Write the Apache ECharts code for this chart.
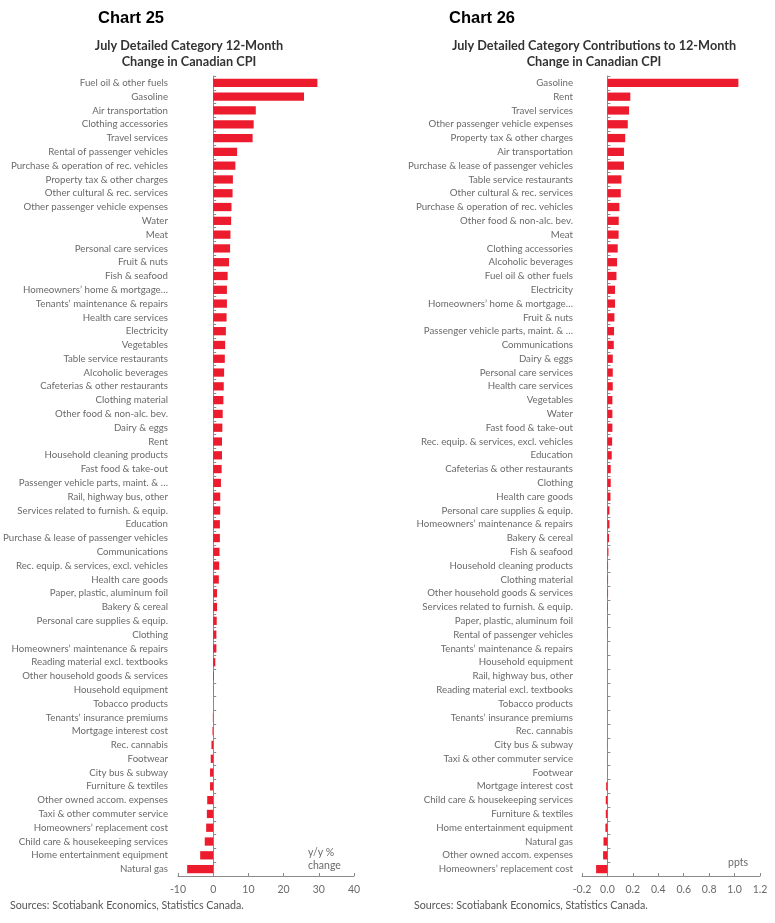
<!DOCTYPE html>
<html>
<head>
<meta charset="utf-8">
<script src="https://cdn.jsdelivr.net/npm/echarts@6/dist/echarts.min.js"></script>
<style>
  html, body { margin: 0; padding: 0; background: #fff; }
  #chart { width: 775px; height: 923px; }
</style>
</head>
<body>
<div id="chart"></div>
<script>
/*-----chart 25 data: y/y % change-----*/
var cats25 = [
  'Fuel oil & other fuels', 'Gasoline', 'Air transportation', 'Clothing accessories',
  'Travel services', 'Rental of passenger vehicles', 'Purchase & operation of rec. vehicles',
  'Property tax & other charges', 'Other cultural & rec. services', 'Other passenger vehicle expenses',
  'Water', 'Meat', 'Personal care services', 'Fruit & nuts', 'Fish & seafood',
  'Homeowners\u2019 home & mortgage\u2026', 'Tenants\u2019 maintenance & repairs', 'Health care services',
  'Electricity', 'Vegetables', 'Table service restaurants', 'Alcoholic beverages',
  'Cafeterias & other restaurants', 'Clothing material', 'Other food & non-alc. bev.',
  'Dairy & eggs', 'Rent', 'Household cleaning products', 'Fast food & take-out',
  'Passenger vehicle parts, maint. & \u2026', 'Rail, highway bus, other',
  'Services related to furnish. & equip.', 'Education', 'Purchase & lease of passenger vehicles',
  'Communications', 'Rec. equip. & services, excl. vehicles', 'Health care goods',
  'Paper, plastic, aluminum foil', 'Bakery & cereal', 'Personal care supplies & equip.',
  'Clothing', 'Homeowners\u2019 maintenance & repairs', 'Reading material excl. textbooks',
  'Other household goods & services', 'Household equipment', 'Tobacco products',
  'Tenants\u2019 insurance premiums', 'Mortgage interest cost', 'Rec. cannabis', 'Footwear',
  'City bus & subway', 'Furniture & textiles', 'Other owned accom. expenses',
  'Taxi & other commuter service', 'Homeowners\u2019 replacement cost',
  'Child care & housekeeping services', 'Home entertainment equipment', 'Natural gas'
];
var vals25 = [
  29.6, 25.8, 12.1, 11.5, 11.2, 6.8, 6.3, 5.6, 5.5, 5.2,
  5.1, 4.9, 4.8, 4.5, 4.1, 3.9, 3.9, 3.8, 3.6, 3.4,
  3.3, 3.1, 3.0, 2.9, 2.7, 2.6, 2.5, 2.5, 2.4, 2.2,
  2.0, 2.0, 1.9, 1.9, 1.8, 1.7, 1.6, 1.1, 1.1, 1.0,
  0.9, 0.9, 0.6, 0.2, 0.05, 0.0, -0.1, -0.2, -0.5, -0.7,
  -0.9, -0.9, -1.7, -1.8, -2.0, -2.4, -3.7, -7.4
];

/*-----chart 26 data: contributions, ppts-----*/
var cats26 = [
  'Gasoline', 'Rent', 'Travel services', 'Other passenger vehicle expenses',
  'Property tax & other charges', 'Air transportation', 'Purchase & lease of passenger vehicles',
  'Table service restaurants', 'Other cultural & rec. services', 'Purchase & operation of rec. vehicles',
  'Other food & non-alc. bev.', 'Meat', 'Clothing accessories', 'Alcoholic beverages',
  'Fuel oil & other fuels', 'Electricity', 'Homeowners\u2019 home & mortgage\u2026', 'Fruit & nuts',
  'Passenger vehicle parts, maint. & \u2026', 'Communications', 'Dairy & eggs',
  'Personal care services', 'Health care services', 'Vegetables', 'Water', 'Fast food & take-out',
  'Rec. equip. & services, excl. vehicles', 'Education', 'Cafeterias & other restaurants',
  'Clothing', 'Health care goods', 'Personal care supplies & equip.',
  'Homeowners\u2019 maintenance & repairs', 'Bakery & cereal', 'Fish & seafood',
  'Household cleaning products', 'Clothing material', 'Other household goods & services',
  'Services related to furnish. & equip.', 'Paper, plastic, aluminum foil',
  'Rental of passenger vehicles', 'Tenants\u2019 maintenance & repairs', 'Household equipment',
  'Rail, highway bus, other', 'Reading material excl. textbooks', 'Tobacco products',
  'Tenants\u2019 insurance premiums', 'Rec. cannabis', 'City bus & subway',
  'Taxi & other commuter service', 'Footwear', 'Mortgage interest cost',
  'Child care & housekeeping services', 'Furniture & textiles', 'Home entertainment equipment',
  'Natural gas', 'Other owned accom. expenses', 'Homeowners\u2019 replacement cost'
];
var vals26 = [
  1.03, 0.18, 0.17, 0.16, 0.14, 0.13, 0.13, 0.11, 0.105, 0.094,
  0.089, 0.088, 0.081, 0.076, 0.071, 0.06, 0.06, 0.055, 0.052, 0.05,
  0.042, 0.042, 0.042, 0.039, 0.039, 0.039, 0.037, 0.034, 0.026, 0.026,
  0.024, 0.016, 0.016, 0.013, 0.008, 0.005, 0.005, 0.005, 0.004, 0.003,
  0.002, 0.001, 0.0, 0.0, 0.0, 0.0, 0.0, 0.0, -0.001, -0.001,
  -0.001, -0.01, -0.013, -0.013, -0.016, -0.031, -0.034, -0.089
];

var ticks25 = [-10, 40, 10];
var ticks26 = [-0.2, 1.2, 0.2];

var RED = '#ec1c2e';
var AXIS = '#8a8a8a';
var TXT = '#6a6a6a';
var FONT = 'Lato, "Open Sans", sans-serif';
var HEAD = '"Liberation Sans", Arial, sans-serif';

var chart = echarts.init(document.getElementById('chart'));

function catAxis(idx, cats, margin) {
  return {
    type: 'category', gridIndex: idx, data: cats, inverse: true,
    axisLine: { onZero: true, lineStyle: { color: AXIS, width: 1 } },
    axisTick: { show: true, inside: true, length: 3, lineStyle: { color: AXIS } },
    axisLabel: { fontSize: 9.7, color: TXT, fontFamily: FONT, margin: margin, interval: 0 },
    splitLine: { show: false }
  };
}

function valAxis(idx, t, fmt) {
  return {
    type: 'value', gridIndex: idx, min: t[0], max: t[1], interval: t[2],
    axisLine: { show: true, onZero: false, lineStyle: { color: AXIS, width: 1 } },
    axisTick: { show: true, inside: true, length: 3, lineStyle: { color: AXIS } },
    axisLabel: { fontSize: 10.5, color: TXT, fontFamily: FONT, margin: 8, formatter: fmt },
    splitLine: { show: false }
  };
}

var option = {
  animation: false,
  textStyle: { fontFamily: FONT },
  title: [
    { text: 'Chart 25', left: 93, top: 5,
      textStyle: { fontSize: 16.5, fontWeight: 'bold', color: '#000', fontFamily: HEAD } },
    { text: 'Chart 26', left: 444, top: 5,
      textStyle: { fontSize: 16.5, fontWeight: 'bold', color: '#000', fontFamily: HEAD } },
    { text: 'July Detailed Category 12-Month\nChange in Canadian CPI', left: 184, top: 33, textAlign: 'center',
      textStyle: { fontSize: 12.7, fontWeight: 'bold', color: '#333', lineHeight: 16, fontFamily: FONT } },
    { text: 'July Detailed Category Contributions to 12-Month\nChange in Canadian CPI', left: 589, top: 33, textAlign: 'center',
      textStyle: { fontSize: 12.7, fontWeight: 'bold', color: '#333', lineHeight: 16, fontFamily: FONT } }
  ],
  grid: [
    { left: 178, width: 176, top: 76, height: 800, outerBoundsMode: 'none' },
    { left: 582, width: 178, top: 76, height: 800, outerBoundsMode: 'none' }
  ],
  xAxis: [
    valAxis(0, ticks25, function (v) { return String(v); }),
    valAxis(1, ticks26, function (v) { return v.toFixed(1); })
  ],
  yAxis: [
    catAxis(0, cats25, 10),
    catAxis(1, cats26, 9)
  ],
  series: [
    { type: 'bar', xAxisIndex: 0, yAxisIndex: 0, data: vals25, barCategoryGap: '40%',
      itemStyle: { color: RED } },
    { type: 'bar', xAxisIndex: 1, yAxisIndex: 1, data: vals26, barCategoryGap: '40%',
      itemStyle: { color: RED } }
  ],
  graphic: [
    { type: 'text', left: 308, top: 846,
      style: { text: 'y/y %\nchange', fontSize: 10.5, lineHeight: 13, fill: TXT, fontFamily: FONT } },
    { type: 'text', left: 728, top: 857,
      style: { text: 'ppts', fontSize: 10.5, fill: TXT, fontFamily: FONT } },
    { type: 'text', left: 10, top: 900,
      style: { text: 'Sources: Scotiabank Economics, Statistics Canada.', fontSize: 10.7, fill: '#555', fontFamily: FONT } },
    { type: 'text', left: 414, top: 900,
      style: { text: 'Sources: Scotiabank Economics, Statistics Canada.', fontSize: 10.7, fill: '#555', fontFamily: FONT } }
  ]
};

chart.setOption(option);
</script>
</body>
</html>
